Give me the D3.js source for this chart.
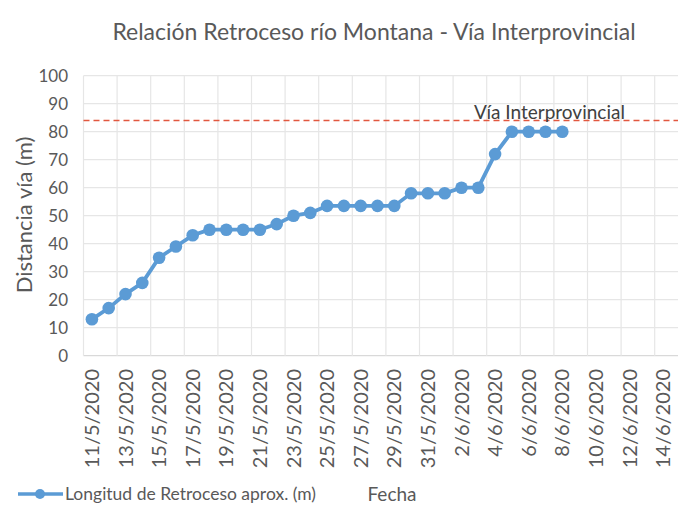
<!DOCTYPE html>
<html>
<head>
<meta charset="utf-8">
<script src="https://cdn.jsdelivr.net/npm/d3@7"></script>
<style>
  body { margin: 0; background: #fff; }
  text { font-family: Lato, "Open Sans", sans-serif; fill: #595959; }
</style>
</head>
<body>
<div id="chart"></div>
<script>
/*
 *  DATA
 */
var fechas = ["11/5/2020", "12/5/2020", "13/5/2020", "14/5/2020", "15/5/2020", "16/5/2020",
    "17/5/2020", "18/5/2020", "19/5/2020", "20/5/2020", "21/5/2020", "22/5/2020", "23/5/2020",
    "24/5/2020", "25/5/2020", "26/5/2020", "27/5/2020", "28/5/2020", "29/5/2020", "30/5/2020",
    "31/5/2020", "1/6/2020", "2/6/2020", "3/6/2020", "4/6/2020", "5/6/2020", "6/6/2020",
    "7/6/2020", "8/6/2020"];
var longitud = [13, 17, 22, 26, 35, 39, 43, 45, 45, 45, 45, 47, 50, 51, 53.5, 53.5, 53.5, 53.5,
    53.5, 58, 58, 58, 60, 60, 72, 80, 80, 80, 80];
var xTickLabels = ["11/5/2020", "13/5/2020", "15/5/2020", "17/5/2020", "19/5/2020", "21/5/2020",
    "23/5/2020", "25/5/2020", "27/5/2020", "29/5/2020", "31/5/2020", "2/6/2020", "4/6/2020",
    "6/6/2020", "8/6/2020", "10/6/2020", "12/6/2020", "14/6/2020"];
var yTicks = [0, 10, 20, 30, 40, 50, 60, 70, 80, 90, 100];
var viaDistancia = 84;
var viaLabel = "Vía Interprovincial";
var serieLabel = "Longitud de Retroceso aprox. (m)";

/*
 *  LAYOUT
 */
var view_width = 678, view_height = 508;
var plotLeft = 83.5, plotRight = 678, plotTop = 75.7, plotBottom = 355.7;
var dayW = 16.8;
var nDays = 36;

var parseDate = d3.timeParse("%d/%m/%Y");
var t0 = parseDate(fechas[0]);

var x_scale = d3.scaleTime()
    .domain([t0, d3.timeDay.offset(t0, nDays)])
    .range([plotLeft, plotLeft + nDays * dayW]);
var y_scale = d3.scaleLinear()
    .domain([0, 100])
    .range([plotBottom, plotTop]);

// Excel puts each day in the middle of its cell
var xc = function(d) { return x_scale(d3.timeHour.offset(d, 12)); };

var data = fechas.map(function(f, i) { return {fecha: parseDate(f), valor: longitud[i]}; });

var svg = d3.select("#chart")
    .append("svg")
        .attr("width", view_width)
        .attr("height", view_height);

// gridlines
svg.append("g")
    .selectAll("line")
    .data(yTicks)
    .enter()
    .append("line")
        .attr("x1", plotLeft)
        .attr("x2", plotRight)
        .attr("y1", function(d) { return y_scale(d); })
        .attr("y2", function(d) { return y_scale(d); })
        .attr("stroke", function(d) { return d == 0 ? "#d9d9d9" : "#e6e6e6"; })
        .attr("stroke-width", 1.2);

svg.append("g")
    .selectAll("line")
    .data(d3.timeDay.range(t0, d3.timeDay.offset(t0, nDays), 2))
    .enter()
    .append("line")
        .attr("x1", function(d) { return x_scale(d); })
        .attr("x2", function(d) { return x_scale(d); })
        .attr("y1", plotTop)
        .attr("y2", plotBottom)
        .attr("stroke", "#e6e6e6")
        .attr("stroke-width", 1.2);

// y axis labels
svg.append("g")
    .selectAll("text")
    .data(yTicks)
    .enter()
    .append("text")
        .attr("x", 68)
        .attr("y", function(d) { return y_scale(d); })
        .attr("dy", "0.35em")
        .attr("text-anchor", "end")
        .style("font-size", "17px")
        .text(function(d) { return d; });

// x axis labels
svg.append("g")
    .selectAll("text")
    .data(xTickLabels)
    .enter()
    .append("text")
        .attr("transform", function(d) { return "translate(" + xc(parseDate(d)) + ",369)rotate(-90)"; })
        .attr("dy", "0.35em")
        .attr("text-anchor", "end")
        .style("font-size", "20px")
        .text(function(d) { return d; });

// linea de la via
svg.append("line")
    .attr("x1", plotLeft)
    .attr("x2", plotRight)
    .attr("y1", y_scale(viaDistancia))
    .attr("y2", y_scale(viaDistancia))
    .attr("stroke", "#e2573f")
    .attr("stroke-width", 1.5)
    .style("stroke-dasharray", ("6, 4"));

svg.append("text")
    .attr("x", 474)
    .attr("y", y_scale(viaDistancia) - 2)
    .style("font-size", "19px")
    .style("fill", "#404040")
    .text(viaLabel);

// serie
var valueline = d3.line()
    .x(function(d) { return xc(d.fecha); })
    .y(function(d) { return y_scale(d.valor); });

svg.append("path")
    .datum(data)
    .attr("fill", "none")
    .attr("stroke", "#5b9bd5")
    .attr("stroke-width", 3.8)
    .attr("d", valueline);

svg.selectAll(".dot")
    .data(data)
    .enter()
    .append("circle")
        .attr("class", "dot")
        .attr("fill", "#5b9bd5")
        .attr("r", 6.3)
        .attr("cx", function(d) { return xc(d.fecha); })
        .attr("cy", function(d) { return y_scale(d.valor); });

// titles
svg.append("text")
    .attr("x", 374)
    .attr("y", 40)
    .attr("text-anchor", "middle")
    .style("font-size", "23px")
    .text("Relación Retroceso río Montana - Vía Interprovincial");

svg.append("text")
    .attr("transform", "translate(24," + 215 + ")rotate(-90)")
    .attr("dy", "0.35em")
    .attr("text-anchor", "middle")
    .style("font-size", "22px")
    .text("Distancia vía (m)");

svg.append("text")
    .attr("x", 392)
    .attr("y", 494)
    .attr("dy", "0.35em")
    .attr("text-anchor", "middle")
    .style("font-size", "19px")
    .text("Fecha");

// legend
var legend = svg.append("g");
legend.append("line")
    .attr("x1", 18)
    .attr("x2", 63)
    .attr("y1", 494)
    .attr("y2", 494)
    .attr("stroke", "#5b9bd5")
    .attr("stroke-width", 3.5);
legend.append("circle")
    .attr("cx", 40)
    .attr("cy", 494)
    .attr("r", 5)
    .attr("fill", "#5b9bd5");
legend.append("text")
    .attr("x", 65)
    .attr("y", 494)
    .attr("dy", "0.35em")
    .style("font-size", "17.5px")
    .text(serieLabel);
</script>
</body>
</html>
